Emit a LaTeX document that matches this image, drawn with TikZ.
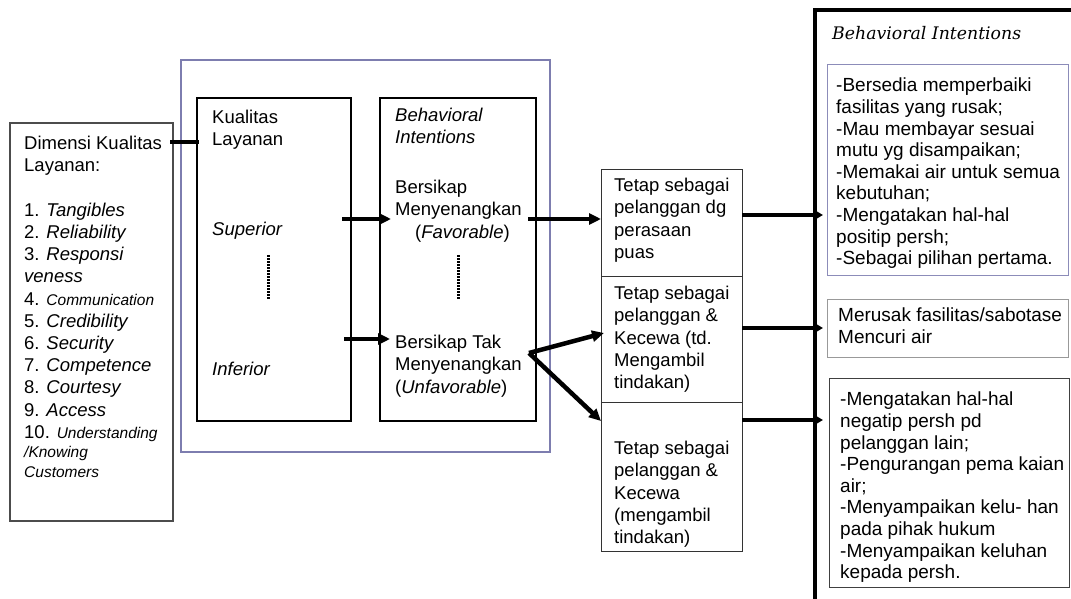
\documentclass[tikz,border=0pt]{standalone}
\usepackage{fontspec}
\setmainfont{Liberation Sans}
\newfontfamily\serifit{DejaVu Serif}
\usetikzlibrary{arrows.meta}
\newcommand{\fsA}{\fontsize{18.5}{22.2}\selectfont}
\newcommand{\fsB}{\fontsize{19.0}{21.6}\selectfont}
\newcommand{\fsS}{\fontsize{15.5}{18}\selectfont}
\definecolor{purp}{RGB}{125,125,175}
\definecolor{lpurp}{RGB}{140,140,185}
\tikzset{
  box/.style={draw, rectangle, inner sep=0pt, outer sep=0pt, anchor=north west},
  txt/.style={anchor=north west, inner sep=0pt, align=left, font=\fsA},
  txtB/.style={anchor=north west, inner sep=0pt, align=left, font=\fsB},
  arr/.style={line width=4.5pt, -{Triangle[length=12pt,width=11pt]}},
  arrR/.style={line width=3.8pt, -{Triangle[length=9pt,width=10pt]}},
  dotline/.style={line width=3pt, dash pattern=on 2pt off 1pt}
}
\begin{document}
\begin{tikzpicture}[x=1pt,y=-1pt]
\useasboundingbox (0,0) rectangle (1071,599);
% left dimension box
\node[box, line width=1.5pt, draw=black!70, minimum width=163pt, minimum height=398pt] (dim) at (10,123) {};
\node[txt] (dimt) at (24,136) {Dimensi Kualitas\\Layanan:\\ \\
1. \textit{Tangibles}\\
2. \textit{Reliability}\\
3. \textit{Responsi}\\
\textit{veness}\\
4. {\fsS\textit{Communication}}\\
5. \textit{Credibility}\\
6. \textit{Security}\\
7. \textit{Competence}\\
8. \textit{Courtesy}\\
9. \textit{Access}\\
10. {\fsS\textit{Understanding}}\\[-2.5pt]
{\fsS\textit{/Knowing}}\\[-2.5pt]
{\fsS\textit{Customers}}};
% purple frame
\node[box, line width=2pt, draw=purp, minimum width=369pt, minimum height=392pt] (frame) at (181,60) {};
% kualitas and behavioral boxes
\node[box, line width=2.5pt, minimum width=154pt, minimum height=323pt] (kual) at (197,98) {};
\node[box, line width=2.5pt, minimum width=156pt, minimum height=323pt] (beh) at (380,98) {};
\node[txt] (kualt) at (212,110) {Kualitas\\Layanan};
\node[txt] (sup) at (212,222) {\textit{Superior}};
\node[txt] (inf) at (212,362) {\textit{Inferior}};
\node[txt] (beht) at (395,108) {\textit{Behavioral}\\\textit{Intentions}};
\node[txt] (fav) at (395,180) {Bersikap\\Menyenangkan\\\hspace*{20pt}(\textit{Favorable})};
\node[txt] (unf) at (395,335) {Bersikap Tak\\Menyenangkan\\(\textit{Unfavorable})};
\coordinate (d1a) at (268,255); \coordinate (d1b) at (268,299);
\coordinate (d2a) at (458,255); \coordinate (d2b) at (458,299);
\draw[dotline] (d1a) -- (d1b);
\draw[dotline] (d2a) -- (d2b);
% middle boxes
\node[box, line width=1pt, draw=black!80, minimum width=141pt, minimum height=106pt] (m1) at (601,170) {};
\node[box, line width=1pt, draw=black!80, minimum width=141pt, minimum height=126pt] (m2) at (601,276) {};
\node[box, line width=1pt, draw=black!80, minimum width=141pt, minimum height=149pt] (m3) at (601,402) {};
\node[txt] (m1t) at (614,178) {Tetap sebagai\\pelanggan dg\\perasaan\\puas};
\node[txt] (m2t) at (614,286) {Tetap sebagai\\pelanggan \&\\Kecewa (td.\\Mengambil\\tindakan)};
\node[txt] (m3t) at (614,441) {Tetap sebagai\\pelanggan \&\\Kecewa\\(mengambil\\tindakan)};
% big right frame
\coordinate (bigTR) at (1075,10);
\coordinate (bigTL) at (815,10);
\coordinate (bigBL) at (815,605);
\draw[line width=3.5pt] (bigTR) -- (bigTL) -- (bigBL);
\node[anchor=west, inner sep=0pt, font=\serifit\fontsize{17.3}{20}\selectfont] (bi) at (832,33) {\textit{Behavioral Intentions}};
\node[box, line width=1pt, draw=lpurp, minimum width=241pt, minimum height=210pt] (r1) at (827,65) {};
\node[box, line width=1pt, draw=black!40, minimum width=241pt, minimum height=58pt] (r2) at (827,299) {};
\node[box, line width=1pt, draw=black!75, minimum width=240pt, minimum height=209pt] (r3) at (829,378) {};
\node[txtB] (r1t) at (836,78) {-Bersedia memperbaiki\\fasilitas yang rusak;\\-Mau membayar sesuai\\mutu yg disampaikan;\\-Memakai air untuk semua\\kebutuhan;\\-Mengatakan hal-hal\\positip persh;\\-Sebagai pilihan pertama.};
\node[txtB] (r2t) at (838,308) {Merusak fasilitas/sabotase\\Mencuri air};
\node[txtB] (r3t) at (840,392) {-Mengatakan hal-hal\\negatip persh pd\\pelanggan lain;\\-Pengurangan pema kaian\\air;\\-Menyampaikan kelu- han\\pada pihak hukum\\-Menyampaikan keluhan\\kepada persh.};
% connectors
\coordinate (lk) at (170,142);
\draw[line width=4pt] (lk) -- (kual.west |- lk) -- ++(2,0);
\coordinate (supS) at (342,219); \coordinate (supE) at (391,219);
\draw[arr] (supS) -- (supE);
\coordinate (infS) at (344,339); \coordinate (infE) at (390,339);
\draw[arr] (infS) -- (infE);
\coordinate (favS) at (528,219);
\draw[arr] (favS) -- (favS -| m1.west);
\coordinate (fork) at (529,353);
\coordinate (forkU) at (604,333);
\coordinate (forkL) at (601,421);
\draw[arr] (fork) -- (forkU);
\draw[arr] (fork) -- (forkL);
\coordinate (o1) at (823,215); \coordinate (o2) at (823,328); \coordinate (o3) at (823,420);
\draw[arrR] (o1 -| m1.east) -- (o1);
\draw[arrR] (o2 -| m2.east) -- (o2);
\draw[arrR] (o3 -| m3.east) -- (o3);
\end{tikzpicture}
\end{document}
